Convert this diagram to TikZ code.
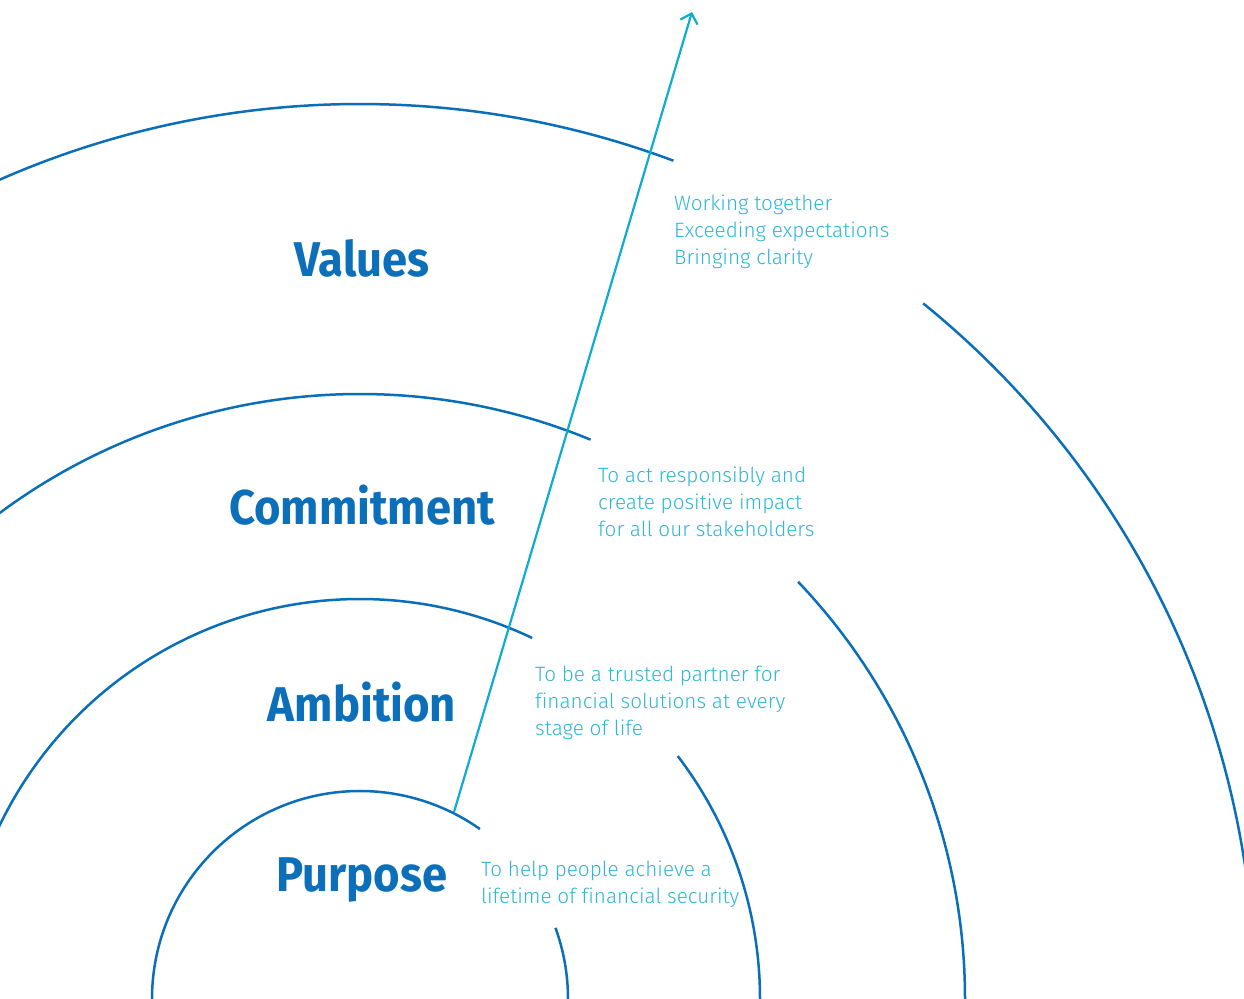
\documentclass[tikz,border=0pt]{standalone}
\usepackage{fontspec}
\usetikzlibrary{arrows.meta}
\setmainfont{Fira Sans}
\newfontfamily\headfont{Fira Sans}[FakeStretch=0.93]
\newfontfamily\descfont{Fira Sans Light}[Ligatures=NoCommon]
\definecolor{arcblue}{HTML}{0A6FB8}
\definecolor{headblue}{HTML}{0B6FBA}
\definecolor{desccyan}{HTML}{2DB6D6}
\definecolor{arrowcyan}{HTML}{0EADCF}
\begin{document}
\begin{tikzpicture}[x=1bp,y=1bp,
  ring/.style={draw=arcblue, line width=2.5bp},
  head/.style={font=\headfont\bfseries\fontsize{49}{56}\selectfont, text=headblue, inner sep=0},
  desc/.style={font=\descfont\fontsize{20.8}{26.8}\selectfont, text=desccyan, align=left, anchor=west, inner sep=0},
  axis/.style={draw=arrowcyan, line width=2.2bp, -{Straight Barb[length=9bp,width=18bp,line width=2.2bp]}}]
\useasboundingbox (0,0) rectangle (1244,999);
\begin{scope}
\clip (0,0) rectangle (1244,999);
\coordinate (c) at (360,0);
% Purpose ring
\draw[ring] (c) ++(180:208) arc (180:54.8:208);
\draw[ring] (c) ++(20:208) arc (20:0:208);
% Ambition ring
\draw[ring] (c) ++(175:400) arc (175:64.5:400);
\draw[ring] (c) ++(37.4:400) arc (37.4:0:400);
% Commitment ring
\draw[ring] (c) ++(170:605) arc (170:67.6:605);
\draw[ring] (c) ++(43.6:605) arc (43.6:0:605);
% Values ring
\draw[ring] (c) ++(165:895) arc (165:69.5:895);
\draw[ring] (c) ++(51:895) arc (51:0:895);
\end{scope}
% axis arrow
\coordinate (a0) at (454,187);
\coordinate (a1) at (692,987);
\draw[axis] (a0) -- (a1);
% headings
\node[head] (values) at (362,741) {Values};
\node[head] (commitment) at (362,494) {Commitment};
\node[head] (ambition) at (362,297) {Ambition};
\node[head] (purpose) at (362,119) {Purpose};
% descriptions
\node[desc] (dvalues) at (674,767) {Working together\\Exceeding expectations\\Bringing clarity};
\node[desc] (dcommitment) at (598,497) {To act responsibly and\\create positive impact\\for all our stakeholders};
\node[desc] (dambition) at (535,296) {To be a trusted partner for\\financial solutions at every\\stage of life};
\node[desc] (dpurpose) at (481,115) {To help people achieve a\\lifetime of financial security};
\end{tikzpicture}
\end{document}
